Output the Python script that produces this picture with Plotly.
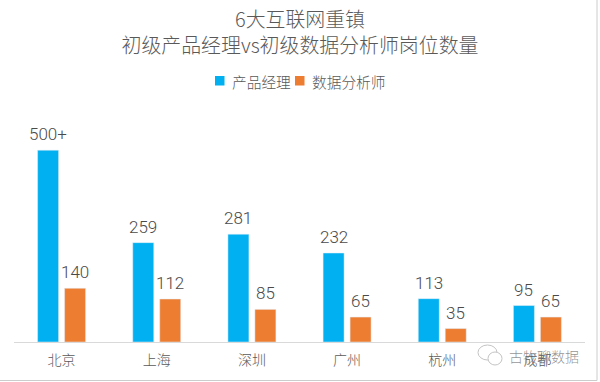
import plotly.graph_objects as go

categories = ["北京", "上海", "深圳", "广州", "杭州", "成都"]
pm_values = [500, 259, 281, 232, 113, 95]
da_values = [140, 112, 85, 65, 35, 65]
pm_labels = ["500+", "259", "281", "232", "113", "95"]
da_labels = ["140", "112", "85", "65", "35", "65"]
title_text = "6大互联网重镇<br>初级产品经理vs初级数据分析师岗位数量"
BLUE, ORANGE = "#00B0F0", "#ED7D31"
FONT = "'Noto Sans CJK SC', 'Noto Sans', sans-serif"
W, H = 600, 382
L, R, T, B = 14, 585, 131, 342

fig = go.Figure()
for name, vals, color in [("产品经理", pm_values, BLUE), ("数据分析师", da_values, ORANGE)]:
    fig.add_bar(name=name, x=categories, y=vals, marker_color=color, showlegend=False, cliponaxis=False)

def px(x): return (x - L) / (R - L)
def py(y): return (B - y) / (B - T)

def rect(x0, x1, y0, y1, fill):
    return dict(type="rect", xref="paper", yref="paper", x0=px(x0), x1=px(x1), y0=py(y0), y1=py(y1),
                fillcolor=fill, line=dict(width=0))

def bubble(x0, x1, y0, y1):
    return dict(type="circle", xref="paper", yref="paper", x0=px(x0), x1=px(x1), y0=py(y0), y1=py(y1),
                fillcolor="white", line=dict(color="#C4C4C4", width=1))

def label(text, x, y, size, color, anchor="left"):
    return dict(text=text, xref="paper", yref="paper", x=px(x), y=py(y), xanchor=anchor, yanchor="middle",
                showarrow=False, font=dict(size=size, color=color, family=FONT, weight=300))

def value_labels(vals, labels, xshift):
    return [dict(text=t, x=c, y=v, xref="x", yref="y", xshift=xshift, yshift=16, showarrow=False,
                 xanchor="center", yanchor="middle",
                 font=dict(size=17, color="#4A4A4A", family="Roboto", weight=300))
            for c, v, t in zip(categories, vals, labels)]

fig.update_layout(
    width=W, height=H, autosize=False,
    margin=dict(l=L, r=W - R, t=T, b=H - B),
    paper_bgcolor="white", plot_bgcolor="white",
    barmode="group", bargap=0.433, bargroupgap=0.222,
    title=dict(text=title_text, x=0.5, xanchor="center", y=0.93, yanchor="top",
               font=dict(size=19.9, color="#595959", family=FONT, weight=300)),
    font=dict(family=FONT, color="#595959"),
    showlegend=False,
    xaxis=dict(showgrid=False, showline=True, linecolor="#D9D9D9", linewidth=1, ticks="",
               ticklabelstandoff=5,
               tickfont=dict(size=14, color="#595959", family=FONT, weight=300)),
    yaxis=dict(visible=False, range=[0, 550]),
    shapes=[
        dict(type="line", xref="paper", yref="paper", x0=px(0), x1=px(597), y0=py(380.5), y1=py(380.5),
             line=dict(color="#CCCCCC", width=1)),
        dict(type="line", xref="paper", yref="paper", x0=px(597), x1=px(597), y0=py(0), y1=py(380.5),
             line=dict(color="#CCCCCC", width=1)),
        rect(215, 224.5, 76, 85.5, BLUE),
        rect(295, 304.5, 76, 85.5, ORANGE),
        bubble(478, 497, 345, 360),
        bubble(488, 502, 352, 365),
    ],
    annotations=[
        label("产品经理", 230, 81, 14.7, "#595959"),
        label("数据分析师", 310, 81, 14.7, "#595959"),
        label("古牧聊数据", 581, 356, 14, "rgba(110,110,110,0.75)", "right"),
    ] + value_labels(pm_values, pm_labels, -13.5) + value_labels(da_values, da_labels, 13.5),
)
fig.write_html("out.html", config={"displayModeBar": False},
               post_script="document.body.style.margin='0';document.body.style.overflow='hidden';")
